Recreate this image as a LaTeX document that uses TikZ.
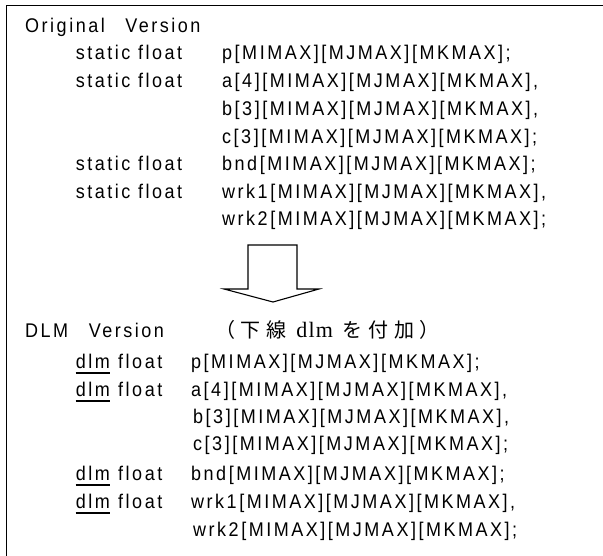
\documentclass[tikz,border=0pt]{standalone}
\usepackage{fontspec}
\newfontfamily\codefont[LetterSpace=14]{Liberation Sans}
\newfontfamily\cjk[LetterSpace=28]{Noto Sans CJK JP}
\newfontfamily\serifjp[LetterSpace=5]{Liberation Serif}
\newcommand{\tall}[1]{\scalebox{1}[1.1]{#1}}
\begin{document}
\begin{tikzpicture}[x=1pt,y=-1pt]
\tikzset{
  code/.style={anchor=base west, inner sep=0pt, font=\codefont\fontsize{18}{21}\selectfont},
  jp/.style={anchor=base west, inner sep=0pt, font=\fontsize{20}{23}\selectfont},
  frame/.style={line width=1.3pt},
  bigarrow/.style={line width=1.1pt, line join=miter},
  uline/.style={line width=1.8pt}
}
\useasboundingbox (0,0) rectangle (603,556);
\draw[frame] (603,5.2) -- (6.8,5.2) -- (6.8,556);
% Original version
\node[code] (t1) at (25,32.7) {\tall{Original\hspace{13pt} Version}};
\node[code] (s1) at (75.7,60) {\tall{static float}};
\node[code] (s2) at (75.7,87.7) {\tall{static float}};
\node[code] (s3) at (75.7,171) {\tall{static float}};
\node[code] (s4) at (75.7,198.5) {\tall{static float}};
\node[code] (o1) at (222,60) {\tall{p[MIMAX][MJMAX][MKMAX];}};
\node[code] (o2) at (222,87.7) {\tall{a[4][MIMAX][MJMAX][MKMAX],}};
\node[code] (o3) at (222,115.5) {\tall{b[3][MIMAX][MJMAX][MKMAX],}};
\node[code] (o4) at (222,143.3) {\tall{c[3][MIMAX][MJMAX][MKMAX];}};
\node[code] (o5) at (222,171) {\tall{bnd[MIMAX][MJMAX][MKMAX];}};
\node[code] (o6) at (222,198.5) {\tall{wrk1[MIMAX][MJMAX][MKMAX],}};
\node[code] (o7) at (222,226) {\tall{wrk2[MIMAX][MJMAX][MKMAX];}};
% arrow
\draw[bigarrow] (248,245) -- (297,245) -- (297,289) -- (319,289) -- (273,302) -- (224,289) -- (248,289) -- cycle;
% DLM version
\node[code] (t2) at (25,337.5) {\tall{DLM\hspace{13pt} Version}};
\node[jp] (t3) at (215,337.5) {\cjk （下線\ {\serifjp\fontsize{22}{24}\selectfont dlm}\ \cjk を付加）};
\foreach \n/\y in {1/368.3, 2/396, 3/480, 4/508}{
  \node[code] (d\n) at (75.7,\y) {\tall{dlm}};
  \node[code] (f\n) at (118,\y) {\tall{float}};
  \draw[uline] (d\n.base west) ++(0,4.6) -- ++(34.5,0);
}
\node[code] (p1) at (191,368.3) {\tall{p[MIMAX][MJMAX][MKMAX];}};
\node[code] (p2) at (191,396) {\tall{a[4][MIMAX][MJMAX][MKMAX],}};
\node[code] (p3) at (193,423.3) {\tall{b[3][MIMAX][MJMAX][MKMAX],}};
\node[code] (p4) at (193,450.7) {\tall{c[3][MIMAX][MJMAX][MKMAX];}};
\node[code] (p5) at (191,480) {\tall{bnd[MIMAX][MJMAX][MKMAX];}};
\node[code] (p6) at (191,508) {\tall{wrk1[MIMAX][MJMAX][MKMAX],}};
\node[code] (p7) at (193,536) {\tall{wrk2[MIMAX][MJMAX][MKMAX];}};
\end{tikzpicture}
\end{document}
